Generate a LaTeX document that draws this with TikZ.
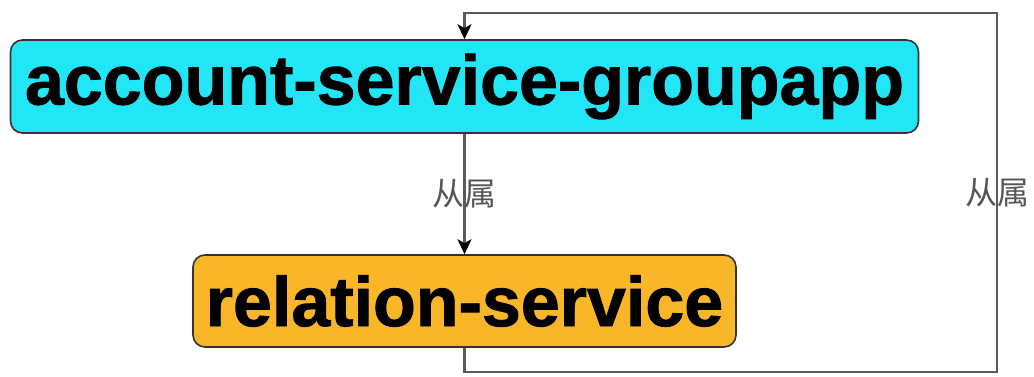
\documentclass[tikz,border=0pt]{standalone}
\usepackage{fontspec}
\setmainfont[BoldFeatures={FakeBold=1.3}]{Liberation Sans}
\newfontfamily\cjk{Noto Sans CJK SC}
\usetikzlibrary{arrows.meta}
\definecolor{cyanfill}{HTML}{22E6F6}
\definecolor{orangefill}{HTML}{F9B628}
\definecolor{edgegray}{HTML}{5A5A5A}
\definecolor{lblgray}{HTML}{555555}
\begin{document}
\begin{tikzpicture}[x=1pt,y=1pt,
  svcbox/.style={draw=black!80, line width=1.6pt, rounded corners=12pt, inner sep=0pt,
    font=\fontsize{70}{70}\selectfont\bfseries, text=black, align=center},
  arr/.style={draw=edgegray, line width=2.2pt, -{Stealth[length=15pt,width=14pt,inset=4pt,color=black]}},
  lbl/.style={font=\cjk\fontsize{32}{32}\selectfont, text=lblgray, inner sep=0pt}]
\useasboundingbox (0,0) rectangle (1034,-376);
\node[svcbox, fill=cyanfill, minimum width=908pt, minimum height=93pt] (top) at (464.5,-86.5) {account-service-groupapp};
\node[svcbox, fill=orangefill, minimum width=543pt, minimum height=92pt] (bot) at (464.5,-301) {relation-service};
\coordinate (c1) at (464.5,-372);
\coordinate (c2) at (997,-372);
\coordinate (c3) at (997,-13);
\coordinate (c4) at (464.5,-13);
\draw[arr] (top.south) -- node[lbl]{从属} (bot.north);
\draw[arr] (bot.south) -- (c1) -- (c2) -- node[lbl]{从属} (c3) -- (c4) -- (top.north);
\end{tikzpicture}
\end{document}
